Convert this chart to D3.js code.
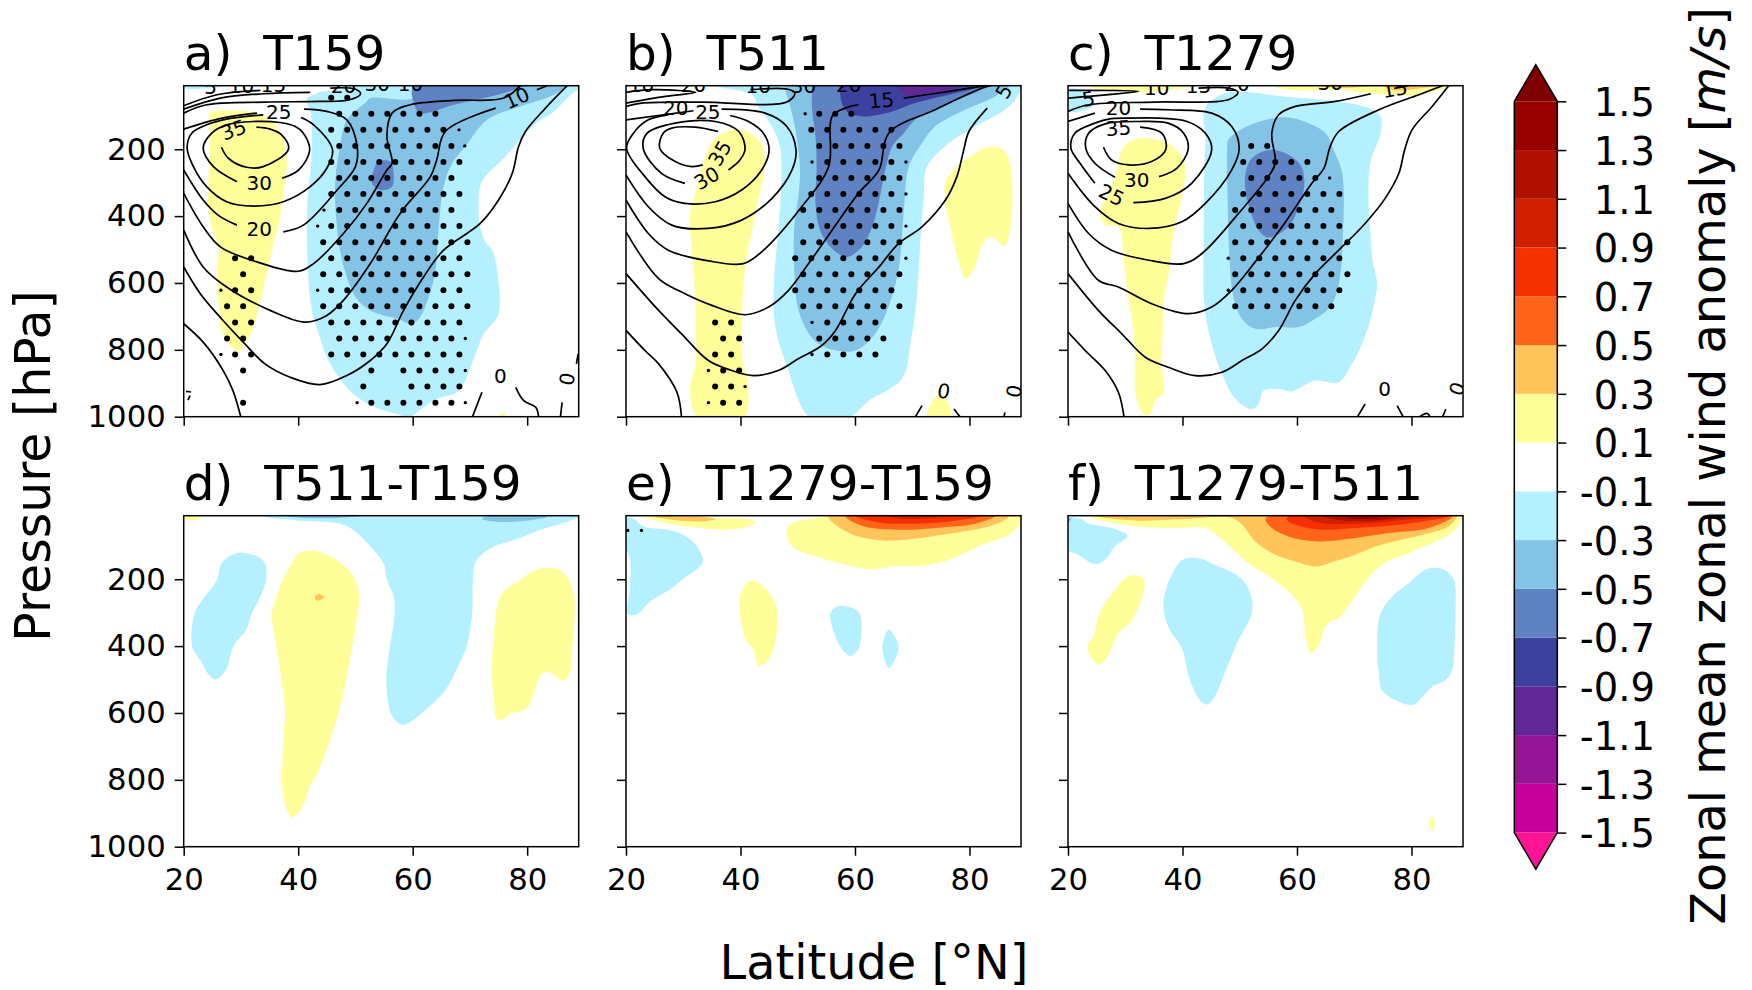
<!DOCTYPE html>
<html>
<head>
<meta charset="utf-8">
<style>
  body { margin: 0; background: #fff; }
  text { font-family: "DejaVu Sans", sans-serif; fill: #000; }
  .axis text { font-size: 30.7px; }
  .axis line { stroke: #000; stroke-width: 1.5px; }
  .axis .domain { display: none; }
  .contour { fill: none; stroke: #000; stroke-width: 1.7px; }
</style>
</head>
<body>
<svg width="1752" height="990"></svg>
<script src="https://d3js.org/d3.v7.min.js"></script>
<script>

// colour levels (m/s), low to high. band i sits between levels[i] and levels[i+1]
var levels = [-1.5, -1.3, -1.1, -0.9, -0.7, -0.5, -0.3, -0.1, 0.1, 0.3, 0.5, 0.7, 0.9, 1.1, 1.3, 1.5];
var levelLabels = ["-1.5", "-1.3", "-1.1", "-0.9", "-0.7", "-0.5", "-0.3", "-0.1", "0.1", "0.3", "0.5", "0.7", "0.9", "1.1", "1.3", "1.5"];
var bandColors = ["#c8009b", "#961496", "#5f2896", "#3c41a0", "#5f82c3", "#82c3e6", "#b4f0ff", "#ffffff",
                  "#ffff99", "#ffc55a", "#ff6418", "#f53000", "#d02000", "#b01000", "#960000"];
var underColor = "#ff1493", overColor = "#7f0000";

var latTicks = [20, 40, 60, 80];
var pressureTicks = [200, 400, 600, 800, 1000];

// band names used below
var LB = "#b4f0ff", MB = "#82c3e6", DB = "#5f82c3", NV = "#3c41a0", PU = "#5f2896";
var YE = "#ffff99", OR = "#ffc55a", DO = "#ff6418", RE = "#f53000", CR = "#d02000", BR = "#b01000", MA = "#960000";

// ---- filled regions, each point is [lat, pressure]

// a) T159
var aYellow = [[24.6,92],[28.1,84],[32.8,92],[36.3,132],[37.7,192],[38,252],[37.4,332],[36.6,422],[35.7,482],[34.8,552],[33.4,652],[32.2,732],[30.7,782],[29.6,805],[28.1,787],[26.6,742],[26.1,662],[25.8,562],[26.1,502],[24.9,432],[24.3,382],[24.3,312],[24.5,222],[24.6,142]];
var aYellowLow = [[75,1002],[75.9,987],[76.2,1002]];
var aLight = [[41.5,52],[43.3,32],[46.8,22],[50.8,10],[89,10],[87,47],[84.7,87],[81.2,127],[78.8,172],[75.9,227],[72.1,297],[71.5,362],[71.8,432],[72.7,477],[73.9,502],[74.9,582],[74.9,697],[72.4,752],[71,812],[69.2,892],[67.7,927],[64.2,947],[61.9,972],[59.3,1002],[57.3,992],[53.8,974],[50,937],[47.3,887],[45,822],[43.6,752],[42.4,682],[41.7,562],[41.6,362],[42.3,232],[42.2,92]];
var aLightTop = [[20,10],[27,10],[26,15],[20,17]];
var aMid = [[52.6,47],[51.7,62],[48.5,112],[47.3,192],[46.5,292],[46.5,372],[47.3,502],[48.5,582],[50,642],[52.6,682],[57.3,707],[59.9,722],[61.3,702],[62.8,642],[64,562],[64.5,442],[65.4,312],[66.9,242],[69.2,192],[73,112],[78.8,72],[84.7,37],[86.7,10],[60.8,10],[60.2,47]];
var aDark = [[60.2,10],[60.2,62],[61.3,92],[67.2,67],[75.9,32],[79.4,10]];
var aDarkBlob = [[53.2,262],[54,237],[56.1,237],[56.6,262],[56.4,312],[54.3,322],[52.9,302]];

// b) T511
var bYellow = [[38.5,142],[35.6,167],[34.1,212],[32.1,332],[31.2,392],[31.6,522],[32.1,662],[32.1,842],[31.2,922],[32.5,1002],[40.5,1002],[41.4,922],[40.2,812],[40.5,612],[41.1,522],[42.6,392],[44.3,222],[43.1,172],[40.2,142]];
var bYellowR = [[75.8,297],[78.1,247],[81,212],[83.4,192],[86,202],[87.2,252],[87.5,322],[87.2,432],[86,490],[84,462],[82.5,477],[80.7,562],[79.3,587],[78.1,537],[76.4,412],[75.8,362]];
var bYellowLow = [[72.6,1002],[74.3,937],[75.5,937],[76.7,1002]];
var bLight = [[43.1,72],[45.5,132],[46.9,192],[47.1,312],[46.6,442],[45.9,582],[45.8,692],[46.6,772],[48.4,862],[49.8,937],[52.2,1002],[58.9,1002],[62.4,952],[68.2,887],[69.7,782],[70.8,642],[71.4,482],[72,342],[72.6,252],[76.4,182],[81,132],[86.6,77],[89,22],[89,10],[35.6,10],[42,37]];
var bMid = [[47.8,22],[48.7,72],[49.8,162],[50.4,262],[50.1,342],[49.4,432],[49.4,562],[50,672],[51.6,742],[53.6,782],[56.8,802],[60.1,802],[63.3,757],[65.6,682],[67.6,562],[68.5,392],[69.4,252],[71.7,182],[74,132],[79.9,77],[84.5,42],[86.9,10],[47.8,10]];
var bDeep = [[52.5,22],[52.5,82],[53.1,162],[53.3,262],[53.1,362],[53.9,442],[56,497],[58.6,522],[61.2,492],[63,432],[64.1,362],[65.3,262],[66.5,192],[68.5,152],[70.8,107],[75.8,67],[82.2,22],[83.4,10],[52.5,10]];
var bNavy = [[57.4,27],[57.7,62],[58.9,92],[61.5,102],[66.5,87],[70.5,62],[76.4,37],[82.2,10],[57.4,10]];
var bPurple = [[67.6,10],[68.8,37],[73.5,32],[78.7,10]];

// c) T1279
var cTopLeft = [[23.8,12],[27.6,24],[32.6,30],[37,24],[42.2,10]];
var cTopRight = [[55.6,10],[59.7,24],[67.3,22],[73.7,34],[81.3,37],[86.5,10]];
var cTopOrange = [[74.9,10],[77.2,24],[81.9,17],[84.2,10]];
var cTopOrange2 = [[63.8,10],[67.3,17],[73.1,10]];
var cCorner = [[20,22],[21.8,20],[23.3,37],[24.7,67],[20,87]];
var cYellow = [[29.4,202],[31.4,172],[34.1,167],[37.5,182],[39.9,222],[40.5,262],[39.9,342],[39,402],[38.1,492],[37.8,552],[36.8,642],[36.5,762],[36.3,842],[36.7,927],[35.2,952],[34.3,992],[33.2,992],[31.8,932],[31.7,812],[31.1,702],[30.3,622],[29.7,522],[28.8,432],[26.5,427],[25.6,392],[27.3,322],[28.5,262]];
var cLight = [[43.7,97],[44,162],[43.8,262],[43.7,462],[43.8,662],[45.1,782],[46.9,872],[49.5,952],[52.1,977],[53.3,962],[54.2,922],[56.8,917],[59.1,924],[63.2,892],[67.3,897],[69.6,842],[71.1,792],[72.8,712],[73.7,642],[74,602],[73.1,522],[72.8,442],[72.5,362],[72.8,242],[74.6,152],[74.6,102],[72.5,77],[67.3,57],[58.5,44],[49.8,27],[47.5,32],[44.5,62]];
var cMid = [[47.8,202],[48,172],[51.2,132],[55,110],[58.5,105],[62,122],[65,152],[66.4,202],[67.9,272],[68,462],[67.3,602],[65.8,672],[63.2,707],[60.3,732],[56.2,732],[52.7,737],[50.4,707],[48.9,642],[48.2,522],[47.9,362]];
var cDeep = [[51,272],[52.1,227],[55,202],[58,212],[60.6,247],[61.3,302],[60.3,372],[58.5,432],[55,464],[53.3,442],[51.8,382],[51,322]];

// d) T511-T159
var dYellowTop = [[20.2,12],[22.9,12],[22.9,20],[20.2,20]];
var dLightLeft = [[21.9,302],[23.7,252],[25.8,202],[26.6,152],[28.7,125],[31,122],[33.4,137],[34.2,152],[34.4,202],[33.1,262],[31.9,302],[30.9,352],[28.8,397],[27.5,467],[26.4,492],[25.5,500],[24.3,484],[23.1,447],[21.5,402]];
var dYellow = [[35.4,302],[36.3,247],[37.7,187],[38.9,152],[40.1,122],[42.7,115],[45.6,132],[48.2,162],[50,202],[50.7,252],[50.3,312],[49.1,432],[47.9,542],[46.5,632],[44.7,722],[43.3,782],[42.1,817],[41.2,862],[40.1,897],[38.9,912],[37.4,852],[37.4,682],[37.7,602],[37.1,502],[36.1,392]];
var dBlob = [[42.9,252],[43.6,244],[44.5,254],[43.6,264],[43.2,264]];
var dLight = [[33.9,12],[39.8,24],[46.8,32],[49.4,50],[52.6,102],[54.9,152],[55.5,202],[56.7,252],[56.8,312],[56.1,392],[55.4,502],[56.1,597],[57,622],[58.1,635],[59.3,630],[62.5,587],[65.7,532],[68,457],[69.4,402],[70.4,302],[70.5,212],[71,147],[73.6,107],[78.2,80],[82.3,52],[87.6,24],[89.1,10],[33.9,10]];
var dMidR = [[72.1,20],[75.9,29],[82.9,17],[83.5,12],[73,12]];
var dMidL = [[38,12],[50.3,12],[46.8,17],[41,17]];
var dYellowR = [[74.5,312],[75,262],[76.2,232],[78.8,202],[80.9,177],[83.5,166],[85.8,174],[87.3,202],[88.2,252],[88.3,302],[87.9,402],[87.3,487],[86.3,502],[84.4,485],[83.8,477],[82.6,482],[81.4,527],[80.6,567],[79.4,592],[77.1,602],[75.9,617],[74.7,619],[74.2,562],[73.8,492],[74,402]];

// e) T1279-T159
var eYellowL = [[23.3,12],[25.7,27],[31.5,44],[36.7,52],[40.2,47],[42.6,30],[41.4,20],[35.6,17],[32.7,12]];
var eOrangeL = [[24.8,12],[28,22],[33.2,27],[35.6,20],[32.1,12]];
var eLightL = [[20,17],[21.6,22],[23,42],[27.4,52],[30.3,70],[32.4,102],[33.4,150],[29.7,202],[28,227],[24.2,267],[21.9,305],[20.4,305],[20.7,222],[20.7,142],[20,102]];
var eYellowM = [[39.9,252],[41.1,212],[42.3,205],[44,222],[45.5,252],[46.5,302],[45.8,407],[44.4,449],[43.3,460],[42,402],[41.1,387],[39.9,302]];
var eLight1 = [[55.7,302],[56.8,282],[58.9,282],[60.8,302],[60.8,402],[60.1,420],[59.1,429],[57.7,407],[56.8,382]];
var eLight2 = [[65.9,350],[66.9,370],[67.6,402],[66.8,447],[65.9,465],[64.8,402]];
var eYellowR = [[48.1,47],[49.3,30],[53.1,17],[56,10],[88.9,10],[88.6,37],[86.9,67],[82.2,97],[76.4,142],[72.3,159],[66.5,162],[63,170],[61.2,167],[54.2,137],[49,102]];
var eOrangeR = [[55.4,10],[55.4,17],[56.8,40],[60.1,70],[64.7,84],[68.8,82],[75.2,67],[82.2,47],[85.7,27],[86.9,10]];
var eDeepOrange = [[58.3,10],[61.2,40],[67.6,52],[75.2,45],[81,34],[84.5,10]];
var eRed = [[60.1,10],[64.1,30],[70.5,34],[76.4,27],[82.2,10]];
var eCrimson = [[64.7,10],[69.4,20],[76.4,10]];

// f) T1279-T511
var fLightL = [[20,20],[22.4,20],[23.3,32],[28.2,50],[30.4,70],[28.2,102],[26.5,142],[25.3,154],[24.1,152],[21.8,127],[20,112]];
var fMidCorner = [[20,17],[20.6,17],[20,32]];
var fYellow = [[23.6,12],[25.3,22],[32.3,42],[38.1,47],[44,47],[46.3,72],[48.6,107],[51.5,152],[55.6,197],[59.4,252],[61,297],[61.5,372],[62.4,422],[63.8,397],[64.7,352],[65.8,327],[67.3,317],[69.3,272],[72.2,202],[75.2,152],[79.5,122],[83.6,92],[87.7,52],[89,12],[89,10],[23.6,10]];
var fOrange = [[25.3,12],[32.3,25],[39.9,20],[48.6,17],[50.4,37],[52.7,87],[56.2,127],[59.7,147],[63.2,162],[65.5,152],[70.2,127],[73.7,102],[81.9,67],[86.5,42],[88,12],[88,10],[25.3,10]];
var fDeepOrange = [[54.5,22],[55.6,47],[58.5,72],[63.8,87],[70.2,77],[76,62],[83,47],[87.1,12],[55,12]];
var fRed = [[58.2,22],[60.3,40],[64.4,52],[70.2,47],[76,40],[81.9,27],[86.5,12],[58.5,12]];
var fCrimson = [[61.2,10],[63.8,30],[70.2,34],[79,22],[84.8,10]];
var fBrick = [[64.4,10],[67.9,24],[73.7,24],[79,14],[81.9,10]];
var fMaroon = [[67.3,10],[71.4,20],[76,10]];
var fLightM = [[36.8,252],[38.7,167],[40.2,140],[42.8,137],[45.7,157],[50.4,200],[52,252],[52.1,302],[49.5,392],[47.8,462],[45.6,552],[44.4,574],[43.4,569],[41.3,502],[39.9,407],[37.8,352],[36.8,302]];
var fYellowL = [[25.5,302],[27.3,252],[30,197],[31.7,187],[33.3,202],[33,252],[30.8,332],[28.8,362],[26.5,442],[25.3,454],[23.8,427],[23.4,399],[24.4,372]];
var fLightR = [[74.6,302],[76.9,247],[79.5,212],[81.9,177],[83.9,166],[85.9,174],[87.4,202],[87.7,302],[87.5,402],[87.1,472],[85.9,502],[83.6,522],[80.4,575],[79.2,575],[74.9,534],[74.3,482],[74,402]];
var fTiny = [[83,930],[83.7,912],[84.1,927],[83.7,952]];

// ---- climatological wind contours, [lat, pressure], a panel's line may be broken by labels

var aContours = [
  [[20,722],[23.4,777],[26.9,862],[28.6,922],[30,1002]],
  [[20,552],[22.9,632],[26.6,707],[30.4,777],[34.2,842],[38.6,882],[43.8,904],[48.5,877],[52.6,832],[55.5,782],[58.4,682],[61.9,582],[65.4,502],[71.8,422],[75,352],[77.4,272],[78.5,192],[79.7,147],[83.2,77],[87,10]],
  [[20,442],[23.4,552],[27.5,612],[35.1,682],[41.2,717],[45,697],[47.9,652],[52.6,542],[57.8,392],[63.1,282],[64.2,232],[65.7,147],[74.5,77]],
  [[81.7,22],[83.5,10]],
  [[20,332],[23.4,432],[26.4,492],[32.8,537],[40,565],[42.7,542],[47.9,452],[52,362],[55.5,262],[56.4,242],[55.5,162],[56.4,92],[59.6,67],[67.2,54],[75.9,47],[78.8,10]],
  [[20,262],[23.4,352],[26,397],[29.3,427]],
  [[37.4,447],[40.9,427],[46.8,322],[50,252],[50.3,192],[48.5,112],[45,87],[41,80]],
  [[32.8,92],[26.7,107],[20,140]],
  [[40.5,105],[42.7,127],[46,202],[45,257],[42.1,312],[37.4,357],[32.2,370],[27.5,357],[24,312],[21.7,252],[20.6,197],[21.4,152],[24,127],[27.5,110],[33.9,97]],
  [[29.3,297],[25.2,252],[23.4,197],[24.9,152],[27.5,127],[32.2,117],[36.8,120],[39.5,132],[40.9,152],[42,202],[40.1,262],[37.2,287]],
  [[26.6,194],[27.8,227],[31,254],[33.9,252],[38.3,200],[37.1,157],[35.1,140],[32.7,134]],
  [[20,92],[24,67],[34.2,59],[43.8,57],[49,52],[50.9,34],[49.9,20],[45.6,17]],
  [[20,80],[26.4,47],[33.9,34],[42.1,30]],
  [[20,70],[25.8,37],[33.4,24]],
  [[70.4,1002],[72.1,927]],
  [[78,912],[79.4,952],[81.5,972],[82,1002]],
  [[85.8,1002],[86.1,957]],
  [[88.6,842],[88.9,812]]
];
var aDashed = [[[20.4,925],[21.2,927],[20.6,955]]];
var aLabels = [["35",28.7,142,-20],["25",36.6,90,0],["30",33.2,302,0],["20",33.2,440,0],["10",78.2,47,-25],["0",75.3,877,0],["0",87,887,-80],
  ["5",24.7,14,0],["10",30.1,12,0],["15",35.7,8,0],["20",47.9,12,0],["30",53.8,6,0],["10",59.6,4,0]];

var bContours = [
  [[20,742],[23.3,802],[25.7,842],[28.9,927],[29.7,1002]],
  [[20,572],[25.7,682],[29.7,752],[34.4,832],[38.5,862],[42.3,877],[46.6,862],[50.1,827],[54.2,787],[56.6,742],[60.1,632],[64.2,552],[67.6,482],[71.7,432],[75.8,352],[77.8,282],[79,202],[79.9,147],[83.1,77]],
  [[20,447],[25.7,587],[29.7,627],[35,667],[40.8,695],[44.9,672],[48.4,622],[51.9,542],[56,442],[60.6,332],[64.2,262],[65.9,152],[74,82],[82.2,17],[83.7,10]],
  [[20,352],[23.9,452],[27.4,502],[34.4,534],[40.5,542],[43.7,507],[50.7,372],[55.4,252],[56,102],[58.3,77],[60.6,67]],
  [[68.5,47],[76.4,27],[82.8,10]],
  [[20,277],[23.9,372],[28,427],[34.4,437],[40.2,412],[45.5,347],[49,262],[49.7,202],[48.1,132],[44.3,92],[36.7,80]],
  [[31.8,85],[20,112]],
  [[38.2,99],[41.4,117],[44,152],[45,202],[43.7,262],[40.2,322],[35.6,357],[30.3,362],[26.8,342],[23.3,282],[20.1,197],[21.3,152],[23.9,112],[27.4,97]],
  [[30.3,302],[26.2,272],[23,197],[23.7,152],[28.6,122],[35.6,117],[39.7,147],[40.8,200],[39.9,232],[37.9,262]],
  [[36.1,147],[32.1,134],[28,137],[26.5,152],[25.9,197],[28.6,237],[31.5,252],[33.4,247]],
  [[20,72],[22.7,62],[33.2,59],[48.1,59],[49.5,32],[48.1,20],[41.7,22]],
  [[20,62],[26.9,42],[32.2,30],[24.6,22],[20,30]],
  [[70.5,1002],[71.7,967]],
  [[77.3,977],[78.4,1002]],
  [[86,1002],[86.2,987]]
];
var bLabels = [["20",28.7,77,0],["25",34.3,90,0],["35",36.4,212,-60],["30",34.1,287,-30],["15",64.6,54,-5],["5",86,27,-60],["0",75.5,924,10],["0",87.8,924,-80],
  ["10",22.7,7,0],["20",31.8,7,0],["10",43.1,12,0],["30",51,12,0],["20",58.9,7,0]];

var cContours = [
  [[20,747],[23,802],[26.5,862],[28.8,927],[29.8,1002]],
  [[20,572],[25.3,682],[29.4,752],[33.5,822],[37.5,852],[42.2,877],[46.9,867],[50.4,832],[53.9,797],[56.8,742],[59.7,652],[63.2,572],[67.3,502],[71.9,422],[75.4,347],[77.8,272],[78.8,202],[80.1,142],[83.6,72],[86.5,10]],
  [[20,447],[25.3,592],[28.8,612],[34.6,662],[41,692],[45.1,672],[48.6,622],[52.7,537],[57.4,432],[62.6,302],[64.7,257],[65.8,192],[67.3,147],[74.3,82],[81.3,37],[85.4,10]],
  [[20,362],[23.6,452],[27.6,502],[34.1,532],[40.2,542],[43.4,512],[49.8,392],[55,282],[56.2,242],[55.6,152],[56.8,97],[59.7,72],[66.7,57],[72.9,34]],
  [[79.5,10],[77,18]],
  [[20,272],[24.7,372],[28.8,422],[34.1,437],[39.9,417],[44,362],[48.6,262],[49.9,197],[48.6,132],[45.1,92],[37.5,82],[32.6,80]],
  [[24.7,92],[20,117]],
  [[31.4,360],[37,347],[41.6,302],[45.1,202],[44,152],[40.8,117],[35.8,107],[30.6,107],[27.1,110],[24.7,122],[21.2,152],[20.5,197],[22.1,242],[24.7,302]],
  [[28.2,284],[24.7,242],[23.1,197],[23.6,152],[26.5,124],[32.3,117],[37.5,122],[40.2,152],[41,200],[39,257],[35.9,282]],
  [[32.6,134],[36.4,152],[37.1,200],[34.6,237],[30.6,247],[27.6,232],[26.2,194]],
  [[20,87],[23.6,67],[35.2,59],[48,52],[49.7,30],[48,17],[42.8,17]],
  [[20,24],[32.3,27],[20,47]],
  [[70.5,1002],[71.9,962]],
  [[77.5,967],[78.6,1002]],
  [[81.3,1002],[82.7,990],[83.3,1002]],
  [[85.4,1002],[86,977]]
];
var cLabels = [["5",23.6,50,-10],["20",28.8,77,0],["35",28.8,137,-5],["30",32,292,0],["25",27.6,337,25],["10",35.5,16,0],["15",77.1,20,-10],["15",42.8,12,0],["20",49.5,5,0],["30",65.8,2,0],["0",75.3,917,0],["0",88,917,-70]];

// ---- stippling. cols are the latitudes of the dot columns, rows are [pressure, first column, dot count]
// dots in one row sit on every second column
var aCols = [27.58,28.98,30.38,31.78,33.18,34.58,35.98,37.38,38.78,40.18,41.58,42.97,44.37,45.77,47.17,48.57,49.97,51.37,52.77,54.17,55.57,56.97,58.37,59.77,61.17,62.57,63.97,65.37,66.76,68.16,69.56];
var aRows = [[46,13,2],[94,14,7],[142,13,8],[190,14,8],[238,13,9],[286,14,8],[334,13,9],[382,14,8],[430,13,9],[478,12,10],[526,13,9],[574,12,10],[622,13,9],[670,12,10],[718,13,9],[766,14,8],[814,13,9],[862,18,1],[862,22,4],[910,17,1],[910,23,4],[958,18,6],
  [526,1,2],[574,2,1],[622,1,2],[670,0,2],[718,1,2],[766,0,2],[814,1,2],[862,2,1],[958,2,1]];
var aEdge = [[44.5,382],[43.4,430],[43.4,622],[26.5,622],[26.5,814],[69.1,190],[68.1,142],[69.2,766],[69.2,862],[69.2,958],[50.3,958]];

var bCols = [35.57,36.97,38.37,39.77,41.17,42.57,43.97,45.37,46.77,48.17,49.56,50.96,52.36,53.76,55.16,56.56,57.96,59.36,60.76,62.16,63.56,64.96,66.36,67.76];
var bRows = [[94,13,3],[142,12,6],[190,13,6],[238,14,5],[286,13,6],[334,12,6],[382,11,7],[430,12,6],[478,11,7],[526,10,7],[574,11,7],[622,10,7],[670,11,7],[718,14,4],[766,13,5],[814,14,4],
  [718,0,2],[766,1,2],[814,0,2],[862,1,2],[910,0,2],[958,1,2]];
var bEdge = [[51.3,94],[52.5,238],[68.9,238],[68.9,334],[68.9,430],[68.9,526],[52.5,718],[52.5,814],[34.4,862],[40.8,910],[34.4,958]];

var cCols = [49.21,50.61,52.01,53.41,54.81,56.21,57.61,59.01,60.41,61.81,63.21,64.61,66,67.4,68.8];
var cRows = [[190,2,2],[238,1,5],[286,2,5],[334,1,7],[382,0,7],[430,1,7],[478,0,8],[526,1,7],[574,0,8],[622,1,7],[670,0,7]];
var cEdge = [[48,526],[48,622],[65.7,286]];

var eEdge = [[20.3,54],[22.7,54]];

// panel table, fills painted in order
var panels = [
  {title: "a)  T159", col: 0, row: 0, contours: aContours, dashed: aDashed, labels: aLabels, cols: aCols, rows: aRows, edge: aEdge,
   fills: [[LB,aLight],[LB,aLightTop],[MB,aMid],[DB,aDark],[DB,aDarkBlob],[YE,aYellow],[YE,aYellowLow]]},
  {title: "b)  T511", col: 1, row: 0, contours: bContours, labels: bLabels, cols: bCols, rows: bRows, edge: bEdge,
   fills: [[LB,bLight],[MB,bMid],[DB,bDeep],[NV,bNavy],[PU,bPurple],[YE,bYellow],[YE,bYellowR],[YE,bYellowLow]]},
  {title: "c)  T1279", col: 2, row: 0, contours: cContours, labels: cLabels, cols: cCols, rows: cRows, edge: cEdge,
   fills: [[LB,cLight],[MB,cMid],[DB,cDeep],[YE,cYellow],[YE,cTopLeft],[YE,cTopRight],[OR,cTopOrange],[OR,cTopOrange2],[LB,cCorner]]},
  {title: "d)  T511-T159", col: 0, row: 1,
   fills: [[YE,dYellowTop],[LB,dLightLeft],[YE,dYellow],[OR,dBlob],[LB,dLight],[MB,dMidR],[MB,dMidL],[YE,dYellowR]]},
  {title: "e)  T1279-T159", col: 1, row: 1, edge: eEdge,
   fills: [[YE,eYellowL],[OR,eOrangeL],[LB,eLightL],[YE,eYellowM],[LB,eLight1],[LB,eLight2],[YE,eYellowR],[OR,eOrangeR],[DO,eDeepOrange],[RE,eRed],[CR,eCrimson]]},
  {title: "f)  T1279-T511", col: 2, row: 1,
   fills: [[LB,fLightL],[MB,fMidCorner],[YE,fYellow],[OR,fOrange],[DO,fDeepOrange],[RE,fRed],[CR,fCrimson],[BR,fBrick],[MA,fMaroon],[LB,fLightM],[YE,fYellowL],[LB,fLightR],[YE,fTiny]]}
];

// layout
var svg = d3.select("svg");
var colLeft = [183.7, 626, 1068], rowTop = [85.7, 515.7];
var panelW = 395, panelH = 331;

var fillPath = d3.line().curve(d3.curveCatmullRomClosed.alpha(0.5));
var linePath = d3.line().curve(d3.curveCatmullRom.alpha(0.5));

panels.forEach(function(p, i) {
  var left = colLeft[p.col], top = rowTop[p.row];
  var x = d3.scaleLinear().domain([20, 89]).range([left, left + panelW]);
  var y = d3.scaleLinear().domain([10, 1000]).range([top, top + panelH]);

  var clipId = "clip" + i;
  svg.append("clipPath").attr("id", clipId).append("rect")
    .attr("x", left).attr("y", top).attr("width", panelW).attr("height", panelH);

  var g = svg.append("g").attr("clip-path", "url(#" + clipId + ")");
  var xy = function(d) { return [x(d[0]), y(d[1])]; };

  g.selectAll("path.fill").data(p.fills).enter().append("path")
    .attr("class", "fill")
    .attr("fill", function(d) { return d[0]; })
    .attr("d", function(d) { return fillPath(d[1].map(xy)); });

  // stippling
  var dots = [];
  (p.rows || []).forEach(function(r) {
    for (var k = 0; k < r[2]; k++) dots.push([p.cols[r[1] + 2 * k], r[0]]);
  });
  g.selectAll("circle.dot").data(dots).enter().append("circle")
    .attr("class", "dot")
    .attr("cx", function(d) { return x(d[0]); })
    .attr("cy", function(d) { return y(d[1]); })
    .attr("r", 3);
  g.selectAll("circle.edge").data(p.edge || []).enter().append("circle")
    .attr("class", "edge")
    .attr("cx", function(d) { return x(d[0]); })
    .attr("cy", function(d) { return y(d[1]); })
    .attr("r", 1.7);

  g.selectAll("path.contour").data(p.contours || []).enter().append("path")
    .attr("class", "contour")
    .attr("d", function(d) { return linePath(d.map(xy)); });
  g.selectAll("path.neg").data(p.dashed || []).enter().append("path")
    .attr("class", "contour neg")
    .attr("stroke-dasharray", "5,3")
    .attr("d", function(d) { return linePath(d.map(xy)); });

  g.selectAll("text").data(p.labels || []).enter().append("text")
    .attr("text-anchor", "middle")
    .attr("dominant-baseline", "central")
    .attr("font-size", 20)
    .attr("transform", function(d) { return "translate(" + x(d[1]) + "," + y(d[2]) + ") rotate(" + d[3] + ")"; })
    .text(function(d) { return d[0]; });

  // frame and axes
  svg.append("rect")
    .attr("x", left).attr("y", top).attr("width", panelW).attr("height", panelH)
    .attr("fill", "none").attr("stroke", "#000").attr("stroke-width", 1.5);

  var xAxis = d3.axisBottom(x).tickValues(latTicks).tickSize(9).tickPadding(13);
  if (p.row == 0) xAxis.tickFormat("");
  svg.append("g").attr("class", "axis")
    .attr("transform", "translate(0," + (top + panelH) + ")")
    .call(xAxis);

  var yAxis = d3.axisLeft(y).tickValues(pressureTicks).tickSize(9).tickPadding(9).tickFormat(d3.format("d"));
  if (p.col != 0) yAxis.tickFormat("");
  svg.append("g").attr("class", "axis")
    .attr("transform", "translate(" + left + ",0)")
    .call(yAxis);

  svg.append("text")
    .attr("x", left).attr("y", top - 16)
    .attr("font-size", 48.5)
    .style("white-space", "pre")
    .text(p.title);
});

svg.append("text")
  .attr("text-anchor", "middle")
  .attr("font-size", 49)
  .attr("transform", "translate(50,466) rotate(-90)")
  .text("Pressure [hPa]");

svg.append("text")
  .attr("x", 874).attr("y", 979)
  .attr("text-anchor", "middle")
  .attr("font-size", 47.8)
  .text("Latitude [°N]");

// colour bar
var barLeft = 1514.3, barRight = 1557.3;
var cb = d3.scaleLinear().domain([-1.5, 1.5]).range([832.6, 101.3]);

svg.selectAll("rect.band").data(bandColors).enter().append("rect")
  .attr("class", "band")
  .attr("x", barLeft)
  .attr("width", barRight - barLeft)
  .attr("y", function(d, i) { return cb(levels[i + 1]); })
  .attr("height", function(d, i) { return cb(levels[i]) - cb(levels[i + 1]); })
  .attr("fill", function(d) { return d; });

var barMid = (barLeft + barRight) / 2;
svg.append("path").attr("fill", overColor)
  .attr("d", d3.line()([[barLeft, cb(1.5)], [barMid, cb(1.65)], [barRight, cb(1.5)]]) + "Z");
svg.append("path").attr("fill", underColor)
  .attr("d", d3.line()([[barLeft, cb(-1.5)], [barMid, cb(-1.65)], [barRight, cb(-1.5)]]) + "Z");
svg.append("path").attr("fill", "none").attr("stroke", "#000").attr("stroke-width", 1.5)
  .attr("d", d3.line()([[barLeft, cb(1.5)], [barMid, cb(1.65)], [barRight, cb(1.5)], [barRight, cb(-1.5)], [barMid, cb(-1.65)], [barLeft, cb(-1.5)]]) + "Z");

svg.append("g").attr("class", "axis colorbar")
  .attr("transform", "translate(" + barRight + ",0)")
  .call(d3.axisRight(cb).tickValues(levels).tickSize(9).tickFormat(function(d, i) { return levelLabels[i]; }))
  .selectAll("text")
  .attr("x", 97.7)
  .attr("y", 2)
  .attr("text-anchor", "end")
  .style("font-size", "38.5px");

var cbLabel = svg.append("text")
  .attr("text-anchor", "middle")
  .attr("font-size", 47.8)
  .attr("transform", "translate(1725,466) rotate(-90)");
cbLabel.append("tspan").text("Zonal mean zonal wind anomaly [");
cbLabel.append("tspan").attr("font-style", "italic").text("m/s");
cbLabel.append("tspan").text("]");

</script>
</body>
</html>
